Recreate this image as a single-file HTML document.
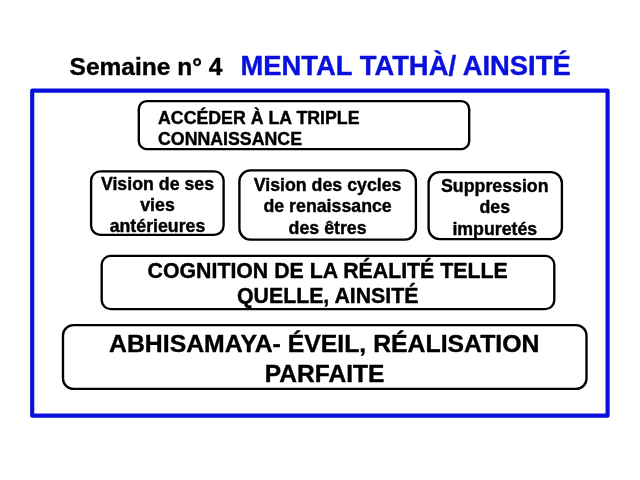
<!DOCTYPE html>
<html lang="fr">
<head>
<meta charset="utf-8">
<title>Semaine n° 4 – MENTAL TATHÀ/ AINSITÉ</title>
<style>
html,body{margin:0;padding:0;background:#fff;}
body{width:640px;height:480px;overflow:hidden;}
svg{will-change:transform;display:block;position:absolute;left:0;top:0;}
text{font-family:"Liberation Sans",Arial,Helvetica,sans-serif;font-weight:bold;fill:#000;stroke:#000;stroke-width:0.4px;stroke-linejoin:round;}
.m{text-anchor:middle;}
.s{font-size:17.75px;}
.bx{fill:#fff;stroke:#000;stroke-width:2.35;}
</style>
</head>
<body>
<svg width="640" height="480" viewBox="0 0 640 480">
  <rect x="0" y="0" width="640" height="480" fill="#fff"/>

  <!-- title -->
  <text transform="translate(69.6,74.7)" font-size="24.5">Semaine n° 4</text>
  <text transform="translate(240.5,74.5)" font-size="27.4" style="fill:#0a10dc;stroke:#0a10dc">MENTAL TATHÀ/ AINSITÉ</text>

  <!-- blue frame -->
  <rect x="32.2" y="90.65" width="575.4" height="325" fill="none" stroke="#0a10dc" stroke-width="4.15" stroke-linejoin="round"/>

  <!-- box 1 -->
  <rect class="bx" x="138.8" y="101.1" width="330.4" height="48" rx="8" ry="8"/>
  <text transform="translate(158,124.1)" class="s">ACCÉDER À LA TRIPLE</text>
  <text transform="translate(158,145.2)" class="s">CONNAISSANCE</text>

  <!-- box 2 -->
  <rect class="bx" x="91.1" y="171.3" width="132.5" height="63.6" rx="9.3" ry="9.3"/>
  <text class="s m" x="157.5" y="189.6">Vision de ses</text>
  <text class="s m" x="157.5" y="211">vies</text>
  <text class="s m" x="157.5" y="232.4">antérieures</text>

  <!-- box 3 -->
  <rect class="bx" x="239.4" y="170.4" width="176.5" height="69.2" rx="11" ry="11"/>
  <text class="s m" x="327.6" y="191.1">Vision des cycles</text>
  <text class="s m" x="327.6" y="212.4">de renaissance</text>
  <text class="s m" x="327.6" y="233.7">des êtres</text>

  <!-- box 4 -->
  <rect class="bx" x="428.6" y="172.1" width="133.3" height="67" rx="11" ry="11"/>
  <text class="s m" x="494.8" y="192">Suppression</text>
  <text class="s m" x="494.8" y="213.3">des</text>
  <text class="s m" x="494.8" y="234.6">impuretés</text>

  <!-- box 5 -->
  <rect class="bx" x="101.7" y="255.9" width="452.6" height="53.2" rx="9" ry="9"/>
  <text class="m" transform="translate(327.6,277.7)" font-size="21.3">COGNITION DE LA RÉALITÉ TELLE</text>
  <text class="m" transform="translate(327.7,303)" font-size="21.3">QUELLE, AINSITÉ</text>

  <!-- box 6 -->
  <rect class="bx" x="63" y="325.1" width="523.5" height="63.8" rx="10.5" ry="10.5"/>
  <text class="m" transform="translate(324.2,351.8)" font-size="24.8">ABHISAMAYA- ÉVEIL, RÉALISATION</text>
  <text class="m" transform="translate(324.6,381.5)" font-size="24.8" textLength="119.6" lengthAdjust="spacingAndGlyphs">PARFAITE</text>
</svg>
</body>
</html>
